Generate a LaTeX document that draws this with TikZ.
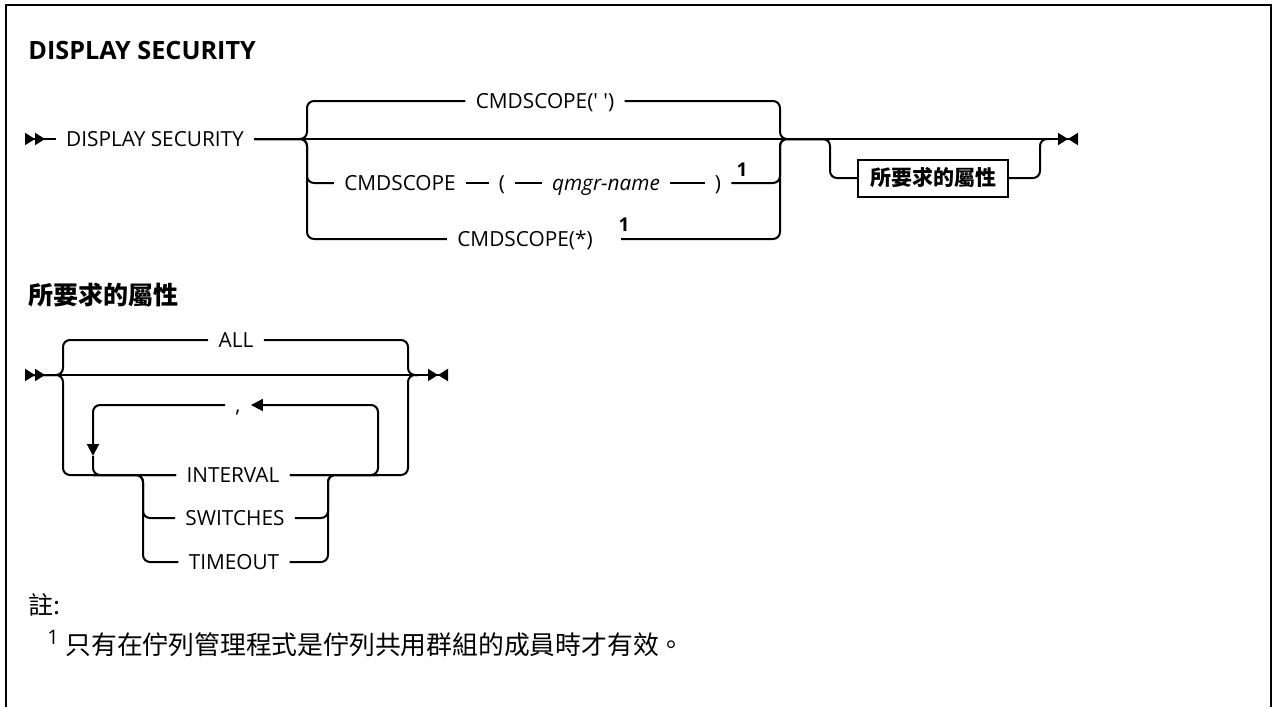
\documentclass[tikz,border=0pt]{standalone}
\usepackage{fontspec}
\setmainfont{Open Sans}[Ligatures=TeXOff]
\newfontfamily\cjk{Noto Sans CJK TC}
\usetikzlibrary{arrows.meta}

\tikzset{
  dstart/.tip={Triangle[reversed,length=5pt,width=6pt]Triangle[reversed,length=5pt,width=6pt]},
  dstop/.tip={Triangle[length=5pt,width=6pt]Triangle[reversed,length=5pt,width=6pt]},
  loopend/.tip={Triangle[length=6pt,width=6pt]}
}

\begin{document}
\begin{tikzpicture}[
  x=0.5pt, y=-0.5pt,
  font=\fontsize{10.4}{12}\selectfont,
  rail/.style={line width=1pt, rounded corners=3.5pt},
  kw/.style={inner xsep=5pt, inner ysep=0pt, text height=7.4pt, text depth=0pt},
  var/.style={kw, font=\fontsize{10.4}{12}\selectfont\itshape},
  fnote/.style={font=\bfseries\fontsize{9.5}{10}\selectfont, inner sep=0pt},
  attrbox/.style={draw, line width=1pt, minimum width=75pt, minimum height=18.5pt, inner sep=2pt, font=\cjk\bfseries\fontsize{10.5}{12}\selectfont},
  head/.style={anchor=west, inner sep=0pt}
]
\useasboundingbox (0,0) rectangle (1274,707);

% ---------------- frame and title ----------------
\draw[line width=1.2pt] (6,707) -- (6,5) -- (1271,5) -- (1271,707);
\node[head, font=\bfseries\fontsize{12.6}{14}\selectfont] (title) at (28,50) {DISPLAY SECURITY};

% ---------------- main syntax ----------------
\coordinate (st1) at (25,139);
\node[kw] (ds) at (155,139) {DISPLAY SECURITY};
\coordinate (lb1) at (307,139);
\coordinate (rb1) at (780,139);
\coordinate (lb2) at (830,139);
\coordinate (rb2) at (1040,139);
\coordinate (en1) at (1078,139);

\node[kw] (dflt) at (545,101) {CMDSCOPE(' ')};
\node[kw] (cs2) at (400,183) {CMDSCOPE};
\node[kw] (lpar) at (502,183) {(};
\node[var] (qmgr) at (606,183) {qmgr-name};
\node[kw] (rpar) at (718,183) {)};
\node[fnote] (fn2) at (742,170) {1};
\node[kw] (cs3) at (525,239) {CMDSCOPE(*)};
\node[fnote] (fn3) at (624,225) {1};
\node[attrbox] (attr) at (933,178) {所要求的屬性};

\draw[rail, dstart-] (st1) -- (ds);
\draw[rail, -dstop] (ds) -- (en1);

\draw[rail] (ds) -- (lb1) |- (dflt);
\draw[rail] (dflt) -| (rb1) -- (lb2);
\draw[rail] (ds) -- (lb1) |- (cs2);
\draw[rail] (cs2) -- (lpar);
\draw[rail] (lpar) -- (qmgr);
\draw[rail] (qmgr) -- (rpar);
\draw[rail] (rpar) -| (rb1) -- (lb2);
\draw[rail] (ds) -- (lb1) |- (cs3);
\draw[rail] ([xshift=9pt]cs3.east) -| (rb1) -- (lb2);

% optional attribute block
\draw[rail] (rb1) -- (lb2) |- (attr);
\draw[rail] (attr) -| (rb2) -- ++(10,0);

% ---------------- requested attributes ----------------
\node[head, font=\cjk\bfseries\fontsize{12.5}{14}\selectfont] (sub) at (28,295) {所要求的屬性};

\coordinate (st2) at (25,375);
\coordinate (lb3) at (63,375);
\coordinate (rb3) at (408,375);
\coordinate (en2) at (448,375);
\coordinate (lpr) at (378,405);
\coordinate (tip) at (93,456);
\coordinate (sbl) at (143,475);
\coordinate (sbr) at (328,475);

\node[kw] (all) at (236,340) {ALL};
\node[kw] (comma) at (238,405) {,};
\node[kw] (intv) at (233,475) {INTERVAL};
\node[kw] (swt) at (235,518) {SWITCHES};
\node[kw] (tmo) at (234,562) {TIMEOUT};

\draw[rail, dstart-dstop] (st2) -- (en2);
\draw[rail] (st2) -- (lb3) |- (all);
\draw[rail] (all) -| (rb3) -- ++(10,0);
\draw[rail] (st2) -- (lb3) |- (intv);
\draw[rail] (intv) -| (rb3) -- ++(10,0);

% repeat loop
\draw[rail, -loopend] (intv) -| (lpr) -- (comma);
\draw[rail, -loopend] (comma) -| (tip);
\draw[rail] (tip) |- (intv);

% choice of attribute
\draw[rail] (tip |- intv) -- (sbl) |- (swt);
\draw[rail] (tip |- intv) -- (sbl) |- (tmo);
\draw[rail] (swt) -| (sbr) -- (lpr |- intv);
\draw[rail] (tmo) -| (sbr) -- (lpr |- intv);

% ---------------- notes ----------------
\node[head, font=\cjk\fontsize{12.5}{14}\selectfont] (notes) at (28,605) {註:};
\node[head, font=\fontsize{10}{12}\selectfont] (fnm) at (47,637) {1};
\node[head, font=\cjk\fontsize{12.9}{14}\selectfont] (fnt) at (65,645) {只有在佇列管理程式是佇列共用群組的成員時才有效。};

\end{tikzpicture}
\end{document}
